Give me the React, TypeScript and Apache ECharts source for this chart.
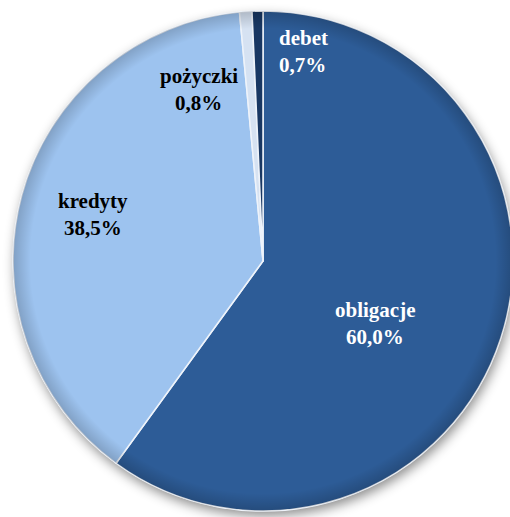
import React, { useEffect, useRef } from "react";
import * as echarts from "echarts";

const categories = ["obligacje", "kredyty", "pożyczki", "debet"];
const values = [60.0, 38.5, 0.8, 0.7];
const valueLabels = ["60,0%", "38,5%", "0,8%", "0,7%"];
const colors = ["#2D5C97", "#9DC3EF", "#D6E2F2", "#183763"];
const labelColors = ["#ffffff", "#000000", "#000000", "#ffffff"];
// label anchor positions (pixels) and alignment
const labelPos: [number, number, string][] = [
  [375, 325, "center"],
  [93, 216, "center"],
  [199, 91, "center"],
  [279, 53, "left"],
];

export default function App() {
  const ref = useRef<HTMLDivElement>(null);
  useEffect(() => {
    if (!ref.current) return;
    const chart = echarts.init(ref.current, undefined, { renderer: "svg" });
    const center = [263, 261];
    const radius = 250;
    const font = "Liberation Serif";
    const fontSize = 21;
    const lineGap = 27;
    const ctx = document.createElement("canvas").getContext("2d");
    const measure = (t: string) => {
      if (!ctx) return t.length * 10;
      ctx.font = `bold ${fontSize}px "${font}"`;
      return ctx.measureText(t).width;
    };
    const labelTexts: any[] = [];
    categories.forEach((c, i) => {
      [c, valueLabels[i]].forEach((t, k) => {
        const w = measure(t);
        const cy = labelPos[i][1] + (k === 0 ? -lineGap / 2 : lineGap / 2);
        const left = labelPos[i][2] === "center" ? labelPos[i][0] - w / 2 : labelPos[i][0];
        labelTexts.push({
          type: "text",
          left: Math.round(left),
          top: Math.round(cy - fontSize * 0.6),
          z: 100,
          silent: true,
          style: {
            text: t,
            fontFamily: font,
            fontWeight: "bold",
            fontSize,
            fill: labelColors[i],
          },
        });
      });
    });
    chart.setOption({
      animation: false,
      backgroundColor: "#ffffff",
      graphic: labelTexts,
      series: [
        {
          type: "pie",
          silent: true,
          z: 1,
          center,
          radius,
          label: { show: false },
          labelLine: { show: false },
          data: [
            {
              value: 1,
              itemStyle: {
                color: "#ffffff",
                shadowBlur: 12,
                shadowOffsetX: 2,
                shadowOffsetY: 5,
                shadowColor: "rgba(0,0,0,0.45)",
              },
            },
          ],
        },
        {
          type: "pie",
          z: 2,
          center,
          radius,
          startAngle: 90,
          clockwise: true,
          itemStyle: { borderColor: "#eef3fa", borderWidth: 1.5 },
          label: { show: false },
          labelLine: { show: false },
          data: categories.map((c, i) => ({
            name: c,
            value: values[i],
            itemStyle: { color: colors[i] },
          })),
        },
        {
          type: "pie",
          silent: true,
          z: 3,
          center,
          radius,
          label: { show: false },
          labelLine: { show: false },
          data: [
            {
              value: 1,
              itemStyle: {
                color: {
                  type: "radial",
                  x: 0.5,
                  y: 0.5,
                  r: 0.5,
                  colorStops: [
                    { offset: 0, color: "rgba(0,0,0,0)" },
                    { offset: 0.93, color: "rgba(0,0,0,0)" },
                    { offset: 1, color: "rgba(0,0,0,0.18)" },
                  ],
                },
              },
            },
          ],
        },
      ],
    });
    return () => chart.dispose();
  }, []);
  return (
    <div
      ref={ref}
      style={{ position: "fixed", left: 0, top: 0, width: 510, height: 517 }}
    />
  );
}
